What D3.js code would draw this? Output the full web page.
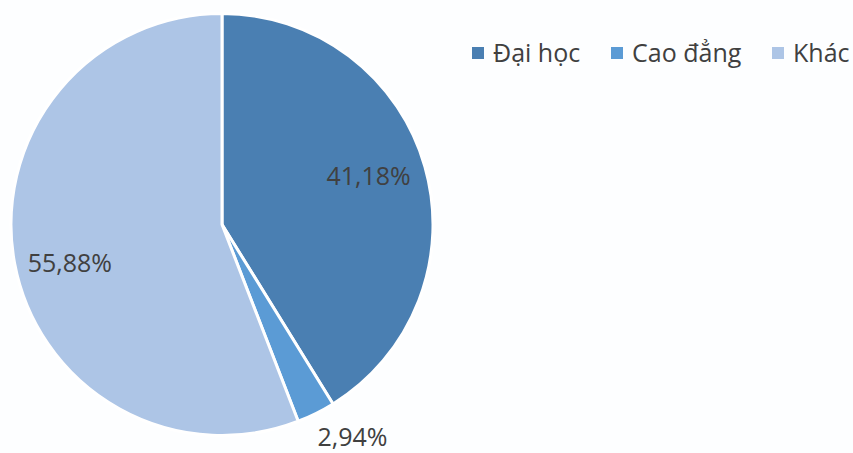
<!DOCTYPE html>
<html>
<head>
<meta charset="utf-8">
<script src="https://cdn.jsdelivr.net/npm/d3@7"></script>
<style>
  body { margin: 0; background: #fdfeff; }
  svg text { font-family: "Open Sans", "Noto Sans", sans-serif; fill: #404040; }
</style>
</head>
<body>
<svg id="chart" width="853" height="453"></svg>
<script>
// data
const categories = ["Đại học", "Cao đẳng", "Khác"];
const values = [41.18, 2.94, 55.88];
const labels = ["41,18%", "2,94%", "55,88%"];
const colors = ["#4a7fb2", "#5b9bd5", "#adc5e6"];

const svg = d3.select("#chart");
const cx = 222, cy = 224.5, radius = 211;

const pie = d3.pie().sort(null).value(d => d);
const arc = d3.arc().innerRadius(0).outerRadius(radius);

const g = svg.append("g").attr("transform", "translate(" + cx + "," + cy + ")");

g.selectAll("path.slice")
  .data(pie(values))
  .enter().append("path")
    .attr("class", "slice")
    .attr("d", arc)
    .attr("fill", (d, i) => colors[i])
    .attr("stroke", "#fff")
    .attr("stroke-width", 3)
    .attr("stroke-linejoin", "round");

// label placement: radius fraction and a small angle nudge (deg), like excel's best fit
const labelR = [0.73, 1.185, 0.745];
const labelNudge = [-2, -5, -4];
function labelPos(d, i) {
  const a = (d.startAngle + d.endAngle) / 2 + labelNudge[i] * Math.PI / 180;
  const r = radius * labelR[i];
  return [Math.sin(a) * r, -Math.cos(a) * r];
}

g.selectAll("text.lbl")
  .data(pie(values))
  .enter().append("text")
    .attr("class", "lbl")
    .attr("transform", (d, i) => "translate(" + labelPos(d, i) + ")")
    .attr("text-anchor", "middle")
    .attr("dy", "0.33em")
    .style("font-size", "25px")
    .text((d, i) => labels[i]);

// legend
const legendX = [472, 611, 772];
const legend = svg.append("g").attr("class", "legend");
const item = legend.selectAll("g")
  .data(categories)
  .enter().append("g")
    .attr("transform", (d, i) => "translate(" + legendX[i] + ",53)");
item.append("rect")
  .attr("x", 0).attr("y", -6)
  .attr("width", 12).attr("height", 12)
  .attr("fill", (d, i) => colors[i]);
item.append("text")
  .attr("x", 21)
  .attr("dy", "0.35em")
  .style("font-size", "25px")
  .text(d => d);
</script>
</body>
</html>
